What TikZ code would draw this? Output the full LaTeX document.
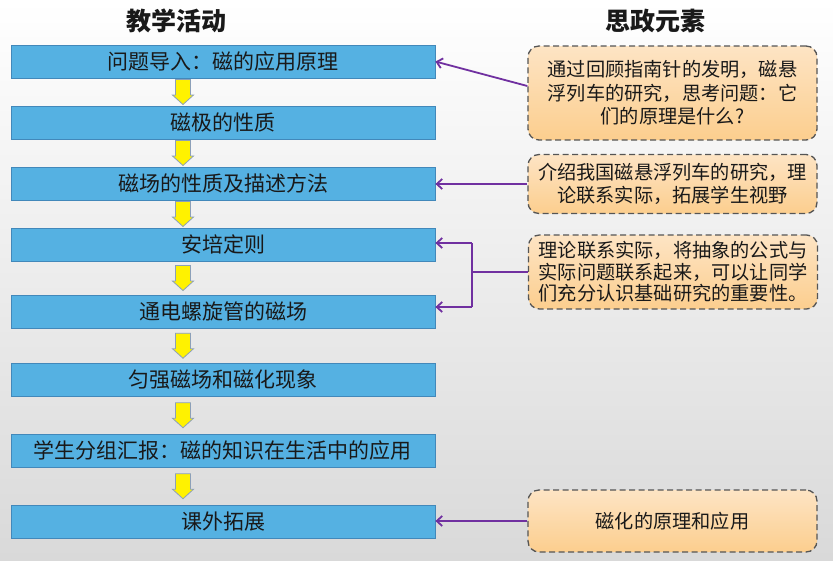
\documentclass[tikz,border=0pt]{standalone}
\usepackage{fontspec}
\setmainfont{Noto Sans CJK SC}
\usetikzlibrary{arrows.meta,calc}
\definecolor{bluefill}{RGB}{85,177,226}
\definecolor{blueline}{RGB}{66,136,186}
\definecolor{ygray}{RGB}{140,160,185}
\definecolor{purp}{RGB}{112,48,160}
\definecolor{dashgray}{RGB}{85,85,85}
\definecolor{orangetop}{RGB}{253,228,196}
\definecolor{orangebot}{RGB}{252,206,142}
\definecolor{textdark}{RGB}{25,25,25}
\definecolor{bgbot}{RGB}{217,217,217}
\begin{document}
\begin{tikzpicture}[x=1pt,y=-1pt,
  act/.style={draw=blueline, fill=bluefill, line width=0.8pt, minimum width=424pt, minimum height=33pt, inner sep=0pt, font=\fontsize{21}{24}\selectfont, text=textdark},
  idea/.style={draw=dashgray, dash pattern=on 6pt off 3.5pt, line width=1.3pt, rounded corners=11pt, top color=orangetop, bottom color=orangebot, minimum width=289pt, align=center, inner sep=0pt, font=\fontsize{19.2}{23.5}\selectfont, text=textdark},
  ttl/.style={font=\fontsize{25}{28}\selectfont\bfseries, text=textdark},
  parrow/.style={draw=purp, line width=1.8pt, -{Straight Barb[length=5.5pt,width=10pt]}},
  pline/.style={draw=purp, line width=1.8pt},
  yarrow/.style={fill=yellow, draw=ygray, line width=0.8pt, line join=miter}
]
\shade[top color=white, bottom color=bgbot] (0,0) rectangle (833,560);
\useasboundingbox (0,0) rectangle (833,560);

\node[ttl] (t1) at (176.5,21) {教学活动};
\node[ttl] (t2) at (655,21) {思政元素};

\node[act] (b1) at (223,61.5) {问题导入：磁的应用原理};
\node[act] (b2) at (223,122.5) {磁极的性质};
\node[act] (b3) at (223,183.5) {磁场的性质及描述方法};
\node[act] (b4) at (223,244.5) {安培定则};
\node[act] (b5) at (223,311.5) {通电螺旋管的磁场};
\node[act] (b6) at (223,380) {匀强磁场和磁化现象};
\node[act] (b7) at (223,450.5) {学生分组汇报：磁的知识在生活中的应用};
\node[act] (b8) at (223,522) {课外拓展};

\foreach \a/\b in {b1/b2,b2/b3,b3/b4,b4/b5,b5/b6,b6/b7,b7/b8}
  \draw[yarrow] let \p1=(\a.south), \p2=(\b.north), \n1={(\y1+\y2)/2} in
    (\x1-47.5pt,\n1+12.5pt) -- (\x1-32.5pt,\n1+12.5pt) -- (\x1-32.5pt,\n1-3pt)
    -- (\x1-29.5pt,\n1-3pt) -- (\x1-40pt,\n1-12.5pt) -- (\x1-50.5pt,\n1-3pt)
    -- (\x1-47.5pt,\n1-3pt) -- cycle;

\node[idea, minimum height=94pt] (o1) at (672.5,93) {通过回顾指南针的发明，磁悬\\浮列车的研究，思考问题：它\\们的原理是什么?};
\node[idea, minimum height=59pt] (o2) at (672.5,184) {介绍我国磁悬浮列车的研究，理\\论联系实际，拓展学生视野};
\node[idea, minimum height=74pt, font=\fontsize{19.2}{21.5}\selectfont] (o3) at (673,272) {理论联系实际，将抽象的公式与\\实际问题联系起来，可以让同学\\们充分认识基础研究的重要性。};
\node[idea, minimum height=62pt] (o4) at (672.5,521) {磁化的原理和应用};

\draw[parrow] ([yshift=7pt]o1.west) -- (b1.east);
\draw[parrow] (o2.west) -- (o2.west -| b3.east);
\coordinate (j1) at (472,243);
\coordinate (j2) at (472,307);
\draw[pline] (o3.west) -- (o3.west -| j1);
\draw[pline] (j1) -- (j2);
\draw[parrow] (j1) -- (j1 -| b4.east);
\draw[parrow] (j2) -- (j2 -| b5.east);
\draw[parrow] (o4.west) -- (o4.west -| b8.east);
\end{tikzpicture}
\end{document}
